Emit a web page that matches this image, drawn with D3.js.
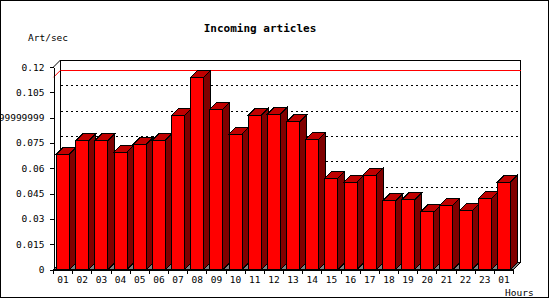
<!DOCTYPE html>
<html>
<head>
<meta charset="utf-8">
<script src="https://cdn.jsdelivr.net/npm/d3@7"></script>
<style>
body { margin: 0; background: #fff; }
svg { display: block; }
text { font-family: "DejaVu Sans Mono", monospace; }
</style>
</head>
<body>
<svg id="grafico"></svg>
<script>
const horas = ['01', '02', '03', '04', '05', '06', '07', '08', '09', '10', '11', '12',
    '13', '14', '15', '16', '17', '18', '19', '20', '21', '22', '23', '01'];
const artigos = [0.0684, 0.0763, 0.0763, 0.0696, 0.0743, 0.0767, 0.0914, 0.1139,
    0.0950, 0.0802, 0.0914, 0.0920, 0.0875, 0.0773, 0.0542, 0.0518, 0.0560, 0.0406,
    0.0412, 0.0341, 0.0382, 0.0347, 0.0418, 0.0518];
const ticksY = [0, 0.015, 0.03, 0.045, 0.06, 0.075, 0.09, 0.105, 0.12];
const rotulosY = ['0', '0.015', '0.03', '0.045', '0.06', '0.075', '0.0899999999', '0.105', '0.12'];

const largura = 550, altura = 300;
const esq = 53.5, dir = 513.5, base = 269.5, topo = 67, prof = 7;

let svg = d3.select('#grafico')
    .attr('width', largura)
    .attr('height', altura);

// moldura da imagem
svg.append('rect')
    .attr('x', 0.5).attr('y', 0.5)
    .attr('width', 548).attr('height', 297)
    .attr('fill', '#fff').attr('stroke', '#000');

let fnX = d3.scaleBand()
    .domain(d3.range(artigos.length))
    .range([esq, dir])
    .paddingInner(0.32)
    .paddingOuter(0.16);

let fnY = d3.scaleLinear()
    .domain([0, 0.12])
    .range([base, topo]);

let plot = svg.append('g').attr('shape-rendering', 'crispEdges');

// parede do fundo
plot.append('rect')
    .attr('x', esq + prof).attr('y', topo - prof)
    .attr('width', dir - esq).attr('height', base - topo)
    .attr('fill', '#fff').attr('stroke', '#000');

// grade pontilhada
plot.selectAll('.grade')
    .data(ticksY.filter(t => t > 0 && t < 0.12))
    .enter().append('line')
    .attr('x1', esq + prof).attr('x2', dir + prof)
    .attr('y1', d => Math.round(fnY(d) - prof) + 0.5)
    .attr('y2', d => Math.round(fnY(d) - prof) + 0.5)
    .attr('stroke', '#000')
    .attr('stroke-dasharray', '2,3');

// linha do máximo
let maximo = d3.max(artigos);
plot.append('line')
    .attr('x1', esq + prof).attr('x2', dir + prof)
    .attr('y1', Math.round(fnY(maximo) - prof) + 0.5)
    .attr('y2', Math.round(fnY(maximo) - prof) + 0.5)
    .attr('stroke', '#f00');
svg.append('line')
    .attr('x1', esq).attr('y1', fnY(maximo))
    .attr('x2', esq + prof).attr('y2', fnY(maximo) - prof)
    .attr('stroke', '#f00');

// chão
plot.append('polygon')
    .attr('points', [[esq, base], [esq + prof, base - prof], [dir + prof, base - prof], [dir, base]].join(' '))
    .attr('fill', '#808080').attr('stroke', '#000');

// barras 3D
let w = fnX.bandwidth();
let barras = plot.selectAll('.barra')
    .data(artigos)
    .enter().append('g')
    .classed('barra', true);

barras.append('polygon')
    .attr('points', (d, i) => {
        let x = fnX(i) + w, y = fnY(d);
        return [[x, y], [x + prof, y - prof], [x + prof, base - prof], [x, base]].join(' ');
    })
    .attr('fill', '#800000').attr('stroke', '#000');

barras.append('polygon')
    .attr('points', (d, i) => {
        let x = fnX(i), y = fnY(d);
        return [[x, y], [x + prof, y - prof], [x + w + prof, y - prof], [x + w, y]].join(' ');
    })
    .attr('fill', '#c00000').attr('stroke', '#000');

barras.append('rect')
    .attr('x', (d, i) => fnX(i))
    .attr('y', d => fnY(d))
    .attr('width', w)
    .attr('height', d => base - fnY(d))
    .attr('fill', '#f00').attr('stroke', '#000');

// diagonais das paredes laterais
svg.append('line')
    .attr('x1', esq).attr('y1', topo)
    .attr('x2', esq + prof).attr('y2', topo - prof)
    .attr('stroke', '#000');
svg.append('line')
    .attr('x1', dir).attr('y1', base)
    .attr('x2', dir + prof).attr('y2', base - prof)
    .attr('stroke', '#000');

// eixo Y
let eixoY = d3.axisLeft(fnY)
    .tickValues(ticksY)
    .tickFormat((d, i) => rotulosY[i])
    .tickSizeInner(4)
    .tickSizeOuter(0)
    .tickPadding(5);
let gY = svg.append('g')
    .attr('transform', 'translate(' + esq + ',0)')
    .call(eixoY);
gY.select('.domain').attr('shape-rendering', 'crispEdges');
gY.selectAll('.tick line').attr('shape-rendering', 'crispEdges');
gY.selectAll('text')
    .style('font-family', '"DejaVu Sans Mono", monospace')
    .style('font-size', '9.5px')
    .attr('fill', '#000');

// eixo X: rótulos no centro, marcas nos limites
let eixoX = d3.axisBottom(fnX)
    .tickFormat(i => horas[i])
    .tickSize(0)
    .tickPadding(7);
let gX = svg.append('g')
    .attr('transform', 'translate(0,' + base + ')')
    .call(eixoX);
gX.select('.domain').attr('shape-rendering', 'crispEdges');
gX.selectAll('text')
    .style('font-family', '"DejaVu Sans Mono", monospace')
    .style('font-size', '9.5px')
    .attr('fill', '#000');

let passo = fnX.step();
gX.selectAll('.limite')
    .data(d3.range(artigos.length + 1))
    .enter().append('line')
    .attr('x1', i => Math.round(esq - 0.5 + i * passo) + 0.5)
    .attr('x2', i => Math.round(esq - 0.5 + i * passo) + 0.5)
    .attr('y1', 0).attr('y2', 4)
    .attr('stroke', '#000')
    .attr('shape-rendering', 'crispEdges');

// títulos
svg.append('text')
    .attr('x', 260).attr('y', 32)
    .attr('text-anchor', 'middle')
    .style('font-size', '11px')
    .style('font-weight', 'bold')
    .text('Incoming articles');

svg.append('text')
    .attr('x', 28).attr('y', 41)
    .style('font-size', '9.5px')
    .text('Art/sec');

svg.append('text')
    .attr('x', 505).attr('y', 296)
    .style('font-size', '9.5px')
    .text('Hours');
</script>
</body>
</html>
